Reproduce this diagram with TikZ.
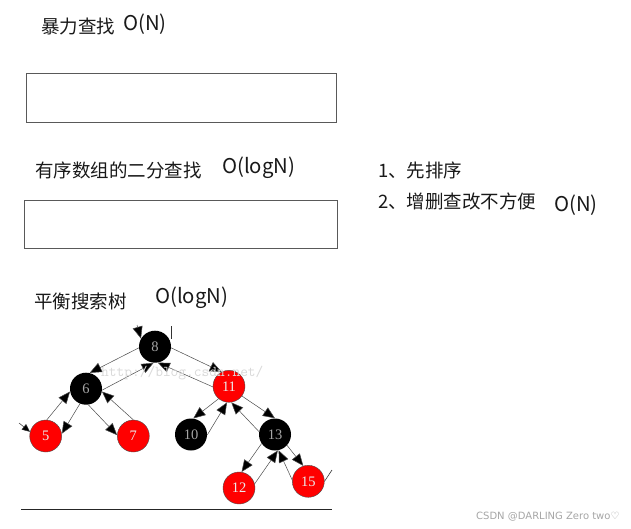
\documentclass[tikz,border=0pt]{standalone}
\usepackage{fontspec}
\usetikzlibrary{arrows.meta}
\newfontfamily\cjk{Noto Sans CJK SC}
\newfontfamily\numf{Liberation Serif}
\newfontfamily\wmf{DejaVu Sans}
\tikzset{
  lbl/.style={anchor=west, inner sep=0pt, font=\cjk\fontsize{18.5}{20}\selectfont, text=black!90},
  cpx/.style={anchor=west, inner sep=0pt, font=\cjk\fontsize{20.3}{22}\selectfont, text=black!90},
  box/.style={draw=black!65, line width=0.8pt},
  tnode/.style={circle, minimum size=32pt, inner sep=0pt, font=\numf\fontsize{14.5}{14.5}\selectfont},
  bnode/.style={tnode, fill=black, text=gray!70},
  rnode/.style={tnode, fill=red, draw=black!70, line width=0.4pt, text=white!92!black},
  edge/.style={draw=black!70, line width=0.5pt, -{Triangle[length=12pt,width=10pt,fill=black]}},
  frag/.style={draw=black!80, line width=0.6pt},
}
\begin{document}
\begin{tikzpicture}[x=1pt, y=-1pt]
\useasboundingbox[fill=white] (0,0) rectangle (631,528);
% section 1
\node[lbl] (t1) at (41,26.7) {暴力查找};
\node[cpx] (c1) at (123,24) {O(N)};
\draw[box] (26,73) rectangle (336,122);
% section 2
\node[lbl] (t2) at (35,170) {有序数组的二分查找};
\node[cpx] (c2) at (222,168) {O(logN)};
\draw[box] (24,200) rectangle (337,248);
\node[lbl] (r1) at (378,170) {1、先排序};
\node[lbl] (r2) at (378,201) {2、增删查改不方便};
\node[cpx] (c3) at (554,205) {O(N)};
% section 3
\node[lbl] (t3) at (34,301) {平衡搜索树};
\node[cpx] (c4) at (155,298) {O(logN)};
% tree
\node[bnode] (n8) at (155,346.7) {8};
\node[bnode] (n6) at (86,388.7) {6};
\node[rnode] (n11) at (229,386.3) {11};
\node[rnode] (n5) at (45.7,436) {5};
\node[rnode] (n7) at (133.3,436) {7};
\node[bnode] (n10) at (191,434.5) {10};
\node[bnode] (n13) at (275,434.5) {13};
\node[rnode] (n12) at (239,488) {12};
\node[rnode] (n15) at (308.3,481.3) {15};
\draw[edge] (n8.184) -- (n6.77);
\draw[edge] (n6.-5) -- (n8.265);
\draw[edge] (n8.-4) -- (n11.117);
\draw[edge] (n11.182) -- (n8.280);
\draw[edge] (n6.248) -- (n5.8);
\draw[edge] (n5.86) -- (n6.190);
\draw[edge] (n6.278) -- (n7.177);
\draw[edge] (n7.90) -- (n6.-10);
\draw[edge] (n11.230) -- (n10.82);
\draw[edge] (n10.-2) -- (n11.263);
\draw[edge] (n11.-37) -- (n13.90);
\draw[edge] (n13.170) -- (n11.278);
\draw[edge] (n13.214) -- (n12.81);
\draw[edge] (n12.15) -- (n13.280);
\draw[edge] (n13.-42) -- (n15.108);
\draw[edge] (n15.175) -- (n13.283);
% fragments
\coordinate (f1) at (137,325);
\draw[edge] (f1) -- (n8.150);
\coordinate (f2) at (171,326);
\coordinate (f3) at (171,339);
\draw[frag] (f2) -- (f3);
\coordinate (f4) at (19,423);
\draw[draw=black!80, line width=0.5pt, -{Triangle[length=8pt,width=7pt,fill=black]}] (f4) -- (n5.165);
\coordinate (f5) at (332,470);
\draw[frag] (f5) -- (n15.0);
% baseline
\coordinate (b1) at (21,509.3);
\coordinate (b2) at (332,509.3);
\draw[line width=1.3pt, black!85] (b1) -- (b2);
% watermarks
\node[anchor=west, inner sep=0pt, font=\ttfamily\fontsize{15}{15}\selectfont, text=gray!30] (wm1) at (101,373.5) {http://blog.csdn.net/};
\node[anchor=west, inner sep=0pt, font=\wmf\fontsize{10}{10}\selectfont, text=gray!70] (wm2) at (476,517) {CSDN @DARLING Zero two♡};
\end{tikzpicture}
\end{document}
